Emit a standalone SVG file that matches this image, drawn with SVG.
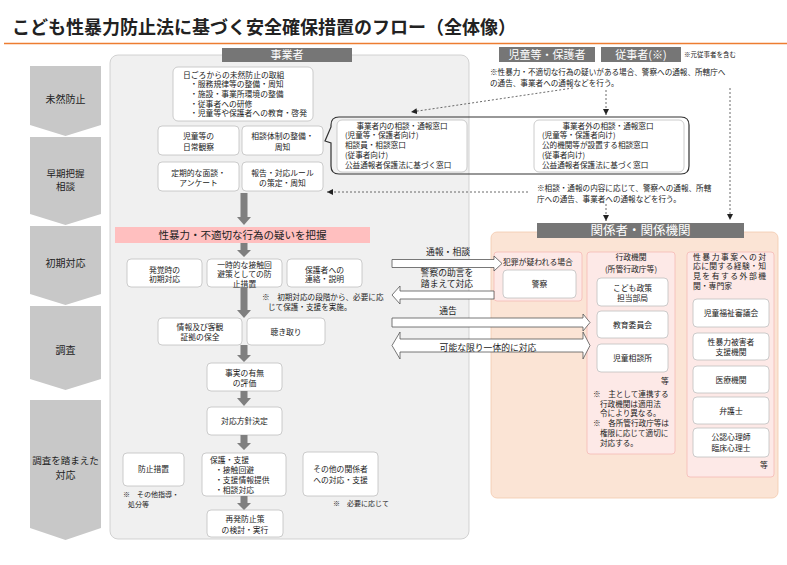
<svg xmlns="http://www.w3.org/2000/svg" width="787" height="565" viewBox="0 0 787 565">
<defs>
<marker id="ah" viewBox="0 0 6 6" refX="6" refY="3" markerWidth="6" markerHeight="6" orient="auto" markerUnits="userSpaceOnUse"><path d="M0,0 L6,3 L0,6 Z" fill="#222"/></marker>
</defs>
<style>
text{font-family:"Noto Sans CJK JP","Noto Sans",sans-serif;fill:#222;font-size:7.8px}
.c{text-anchor:middle}
.n{font-size:7.6px}
.stage{fill:#c8c8c8}
.sl{font-size:10px;text-anchor:middle}
.box{fill:#fff;stroke:#bfbfbf;stroke-width:0.8}
.bar{fill:#767676}
.bt{fill:#fff;text-anchor:middle}
.garrow{fill:#7f7f7f}
.barrow{fill:#fff;stroke:#555;stroke-width:0.8}
.dash{fill:none;stroke:#444;stroke-width:0.8;stroke-dasharray:2 2;marker-end:url(#ah)}
.sub{fill:#fde9e7;stroke:#f5b9b5;stroke-width:0.8}
.al{font-size:8.8px;text-anchor:middle}
</style>
<rect width="787" height="565" fill="#fff"/>
<text x="12" y="34" style="font-size:18px;font-weight:bold" fill="#111">こども性暴力防止法に基づく安全確保措置のフロー（全体像）</text>
<line x1="4" y1="43.5" x2="787" y2="43.5" stroke="#ED7D31" stroke-width="1.5"/>

<g id="stages">
<g id="stage1"><path class="stage" d="M30,66H101V125L65.5,136L30,125Z"/><text class="sl" x="65.5" y="102.5">未然防止</text></g>
<g id="stage2"><path class="stage" d="M30,137H101V214L65.5,225L30,214Z"/><text class="sl" x="65.5" y="176.5" style="font-size:9.5px">早期把握</text><text class="sl" x="65.5" y="190" style="font-size:9.5px">相談</text></g>
<g id="stage3"><path class="stage" d="M30,226H101V294L65.5,305L30,294Z"/><text class="sl" x="65.5" y="266.5">初期対応</text></g>
<g id="stage4"><path class="stage" d="M30,306H101V379L65.5,390L30,379Z"/><text class="sl" x="65.5" y="353.5">調査</text></g>
<g id="stage5"><path class="stage" d="M30,400H101V528L65.5,540L30,528Z"/><text class="sl" x="65.5" y="463.5" style="font-size:9.5px">調査を踏まえた</text><text class="sl" x="65.5" y="478.5">対応</text></g>
</g>

<g id="jigyosha-panel">
<rect x="110" y="55" width="359" height="484" rx="8" fill="#f0f0f0" stroke="#c8c8c8" stroke-width="0.8"/>
<rect class="bar" x="222" y="48" width="130" height="14"/>
<text class="bt" x="287" y="59" style="font-size:11px">事業者</text>
</g>

<g id="peach-panel">
<rect x="491" y="232" width="287" height="266" rx="6" fill="#fbe4d5" stroke="#f3c9ad" stroke-width="0.8"/>
<rect class="bar" x="537" y="223" width="207" height="15"/>
<text class="bt" x="640.5" y="235" style="font-size:12.5px">関係者・関係機関</text>
</g>

<g id="top-actors">
<rect class="bar" x="499" y="47" width="96" height="15"/>
<text class="bt" x="547" y="58.5" style="font-size:11px">児童等・保護者</text>
<rect class="bar" x="601" y="47" width="80" height="15"/>
<text class="bt" x="641" y="58.5" style="font-size:11px">従事者(※)</text>
<text x="684" y="57" style="font-size:6.5px">※元従事者を含む</text>
<text class="n" x="490" y="75">※性暴力・不適切な行為の疑いがある場合、警察への通報、所轄庁へ</text>
<text class="n" x="490" y="85.5">の通告、事業者への通報などを行う。</text>
</g>

<g id="prevention">
<rect class="box" x="173" y="67" width="140" height="54" rx="5"/>
<text x="183" y="77.5">日ごろからの未然防止の取組</text>
<text x="190" y="87.3">・服務規律等の整備・周知</text>
<text x="190" y="97">・施設・事業所環境の整備</text>
<text x="190" y="106.7">・従事者への研修</text>
<text x="190" y="116.4">・児童等や保護者への教育・啓発</text>
</g>
<g id="observe"><rect class="box" x="158" y="126" width="81" height="29" rx="4"/><text class="c" x="198.5" y="139">児童等の</text><text class="c" x="198.5" y="150">日常観察</text></g>
<g id="consult-system"><rect class="box" x="242" y="126" width="81" height="29" rx="4"/><text class="c" x="282.5" y="139">相談体制の整備・</text><text class="c" x="282.5" y="150">周知</text></g>
<g id="interview"><rect class="box" x="158" y="162" width="81" height="29" rx="4"/><text class="c" x="198.5" y="175.5">定期的な面談・</text><text class="c" x="198.5" y="186">アンケート</text></g>
<g id="report-rule"><rect class="box" x="242" y="162" width="81" height="29" rx="4"/><text class="c" x="282.5" y="175.5">報告・対応ルール</text><text class="c" x="282.5" y="186">の策定・周知</text></g>

<g id="windows">
<path d="M339,117H681Q689,117 689,125V166Q689,174 681,174H339Q331,174 331,166V143L325,141L331,127V125Q331,117 339,117Z" fill="none" stroke="#333" stroke-width="1.2"/>
<rect class="box" x="337" y="120" width="130" height="52" rx="5"/>
<text class="c n" x="402" y="128.5">事業者内の相談・通報窓口</text>
<text class="n" x="345" y="138.3">(児童等・保護者向け)</text>
<text class="n" x="345" y="148.1">相談員・相談窓口</text>
<text class="n" x="345" y="157.9">(従事者向け)</text>
<text class="n" x="345" y="167.7">公益通報者保護法に基づく窓口</text>
<rect class="box" x="534" y="120" width="150" height="52" rx="5"/>
<text class="c n" x="608" y="128.5">事業者外の相談・通報窓口</text>
<text class="n" x="542" y="138.3">(児童等・保護者向け)</text>
<text class="n" x="542" y="148.1">公的機関等が設置する相談窓口</text>
<text class="n" x="542" y="157.9">(従事者向け)</text>
<text class="n" x="542" y="167.7">公益通報者保護法に基づく窓口</text>
</g>
<text class="n" x="537" y="191">※相談・通報の内容に応じて、警察への通報、所轄</text>
<text class="n" x="537" y="201.5">庁への通告、事業者への通報などを行う。</text>

<g id="grasp"><rect x="115" y="227" width="255" height="16" fill="#ffbfbf"/><text class="c" x="242.5" y="239" style="font-size:10.5px" fill="#ff0000">性暴力・不適切な行為の疑いを把握</text></g>
<g id="initial"><rect class="box" x="127" y="259" width="75" height="28" rx="4"/><text class="c" x="164.5" y="272.5">発覚時の</text><text class="c" x="164.5" y="282.3">初期対応</text></g>
<g id="separation"><rect class="box" x="207" y="259" width="75" height="28" rx="4"/><text class="c" x="244.5" y="267.5">一時的な接触回</text><text class="c" x="244.5" y="277.3">避策としての防</text><text class="c" x="244.5" y="287.1">止措置</text></g>
<g id="guardian"><rect class="box" x="287" y="259" width="75" height="28" rx="4"/><text class="c" x="324.5" y="272.5">保護者への</text><text class="c" x="324.5" y="282.3">連絡・説明</text></g>
<text class="n" x="262" y="300">※　初期対応の段階から、必要に応</text>
<text class="n" x="268" y="310">じて保護・支援を実施。</text>

<g id="evidence"><rect class="box" x="158" y="318" width="84" height="27" rx="4"/><text class="c" x="200" y="329.8">情報及び客観</text><text class="c" x="200" y="339.6">証拠の保全</text></g>
<g id="hearing"><rect class="box" x="247" y="318" width="78" height="27" rx="4"/><text class="c" x="286" y="334.5">聴き取り</text></g>
<g id="evaluate"><rect class="box" x="207" y="363" width="75" height="28" rx="4"/><text class="c" x="244.5" y="376">事実の有無</text><text class="c" x="244.5" y="386">の評価</text></g>
<g id="policy"><rect class="box" x="207" y="407" width="75" height="28" rx="4"/><text class="c" x="244.5" y="424">対応方針決定</text></g>
<g id="prevent-measure"><rect class="box" x="123" y="453" width="61" height="33" rx="4"/><text class="c" x="153.5" y="472">防止措置</text></g>
<text x="123" y="497" style="font-size:7px">※　その他指導・</text>
<text x="128" y="506.5" style="font-size:7px">処分等</text>
<g id="protect"><rect class="box" x="202" y="453" width="84" height="43" rx="4"/><text x="210" y="462.5">保護・支援</text><text x="215" y="472.5">・接触回避</text><text x="215" y="482.7">・支援情報提供</text><text x="215" y="492.9">・相談対応</text></g>
<g id="others"><rect class="box" x="303" y="452" width="75" height="44" rx="4"/><text class="c" x="340.5" y="472">その他の関係者</text><text class="c" x="340.5" y="483">への対応・支援</text></g>
<text x="333" y="506" style="font-size:7px">※　必要に応じて</text>
<g id="recurrence"><rect class="box" x="207" y="510" width="76" height="27" rx="4"/><text class="c" x="245" y="522">再発防止策</text><text class="c" x="245" y="533">の検討・実行</text></g>

<g id="crime" >
<rect class="sub" x="494" y="252" width="88" height="49" rx="3"/>
<text x="503" y="264.8">犯罪が疑われる場合</text>
<rect class="box" x="503" y="270" width="73" height="28" rx="4"/>
<text class="c" x="539.5" y="287">警察</text>
</g>
<g id="admin">
<rect class="sub" x="587" y="252" width="88" height="202" rx="3"/>
<text class="c" x="631" y="260">行政機関</text>
<text class="c" x="631" y="272">(所管行政庁等)</text>
<rect class="box" x="597" y="278" width="71" height="28" rx="4"/><text class="c" x="632.5" y="291">こども政策</text><text class="c" x="632.5" y="300.8">担当部局</text>
<rect class="box" x="597" y="311" width="71" height="27" rx="4"/><text class="c" x="632.5" y="327.8">教育委員会</text>
<rect class="box" x="597" y="344" width="71" height="28" rx="4"/><text class="c" x="632.5" y="361">児童相談所</text>
<text x="661" y="384">等</text>
<text class="n" x="593" y="397">※　主として連携する</text>
<text class="n" x="600" y="406.7">行政機関は適用法</text>
<text class="n" x="600" y="416.4">令により異なる。</text>
<text class="n" x="593" y="426.1">※　各所管行政庁等は</text>
<text class="n" x="600" y="435.8">権限に応じて適切に</text>
<text class="n" x="600" y="445.5">対応する。</text>
</g>
<g id="experts">
<rect class="sub" x="687" y="252" width="87" height="225" rx="3"/>
<text x="693" y="259.5" textLength="73" lengthAdjust="spacing">性暴力事案への対</text>
<text x="693" y="269.2" textLength="73" lengthAdjust="spacing">応に関する経験・知</text>
<text x="693" y="278.9" textLength="73" lengthAdjust="spacing">見を有する外部機</text>
<text x="693" y="288.6">関・専門家</text>
<rect class="box" x="693" y="299" width="76" height="28" rx="4"/><text class="c" x="731" y="316">児童福祉審議会</text>
<rect class="box" x="693" y="333" width="76" height="27" rx="4"/><text class="c" x="731" y="345">性暴力被害者</text><text class="c" x="731" y="355">支援機関</text>
<rect class="box" x="693" y="366" width="76" height="27" rx="4"/><text class="c" x="731" y="383">医療機関</text>
<rect class="box" x="693" y="397" width="76" height="27" rx="4"/><text class="c" x="731" y="414">弁護士</text>
<rect class="box" x="693" y="428" width="76" height="29" rx="4"/><text class="c" x="731" y="439.5">公認心理師</text><text class="c" x="731" y="450.5">臨床心理士</text>
<text x="760" y="468">等</text>
</g>

<g id="connectors">
<path class="garrow" d="M240.5,193H247.5V217H251L244,225L237,217H240.5Z"/>
<path class="garrow" d="M240.5,243H247.5V250H251L244,257L237,250H240.5Z"/>
<path class="garrow" d="M240.5,287H247.5V310H251L244,318L237,310H240.5Z"/>
<path class="garrow" d="M240.5,345H247.5V355H251L244,362L237,355H240.5Z"/>
<path class="garrow" d="M240.5,391H247.5V398H251L244,406L237,398H240.5Z"/>
<path class="garrow" d="M240.5,435H247.5V443H251L244,450L237,443H240.5Z"/>
<path class="garrow" d="M240.5,496H247.5V503H251L244,510L237,503H240.5Z"/>

<path class="dash" d="M573,88L411,112"/>
<path class="dash" d="M606,90V115"/>
<path class="dash" d="M730,88V220"/>
<path class="dash" d="M528,192H327"/>
<path class="dash" d="M606,204V221"/>

<path class="barrow" d="M392,259.5H494V256L502,263.5L494,271V267.5H392Z"/>
<path class="barrow" d="M494,291H400V286L392,295L400,304V299H494Z"/>
<path class="barrow" d="M392,318H583V314L590,322.5L583,331V327H392Z"/>
<path class="barrow" d="M392,345.5L400,332V339H583V332L590,345.5L583,359V352H400V359Z"/>
<text class="al" x="448" y="255">通報・相談</text>
<text class="al" x="447" y="275.5">警察の助言を</text>
<text class="al" x="447" y="287">踏まえて対応</text>
<text class="al" x="448" y="314">通告</text>
<text class="al" x="488" y="351">可能な限り一体的に対応</text>
</g>
</svg>
